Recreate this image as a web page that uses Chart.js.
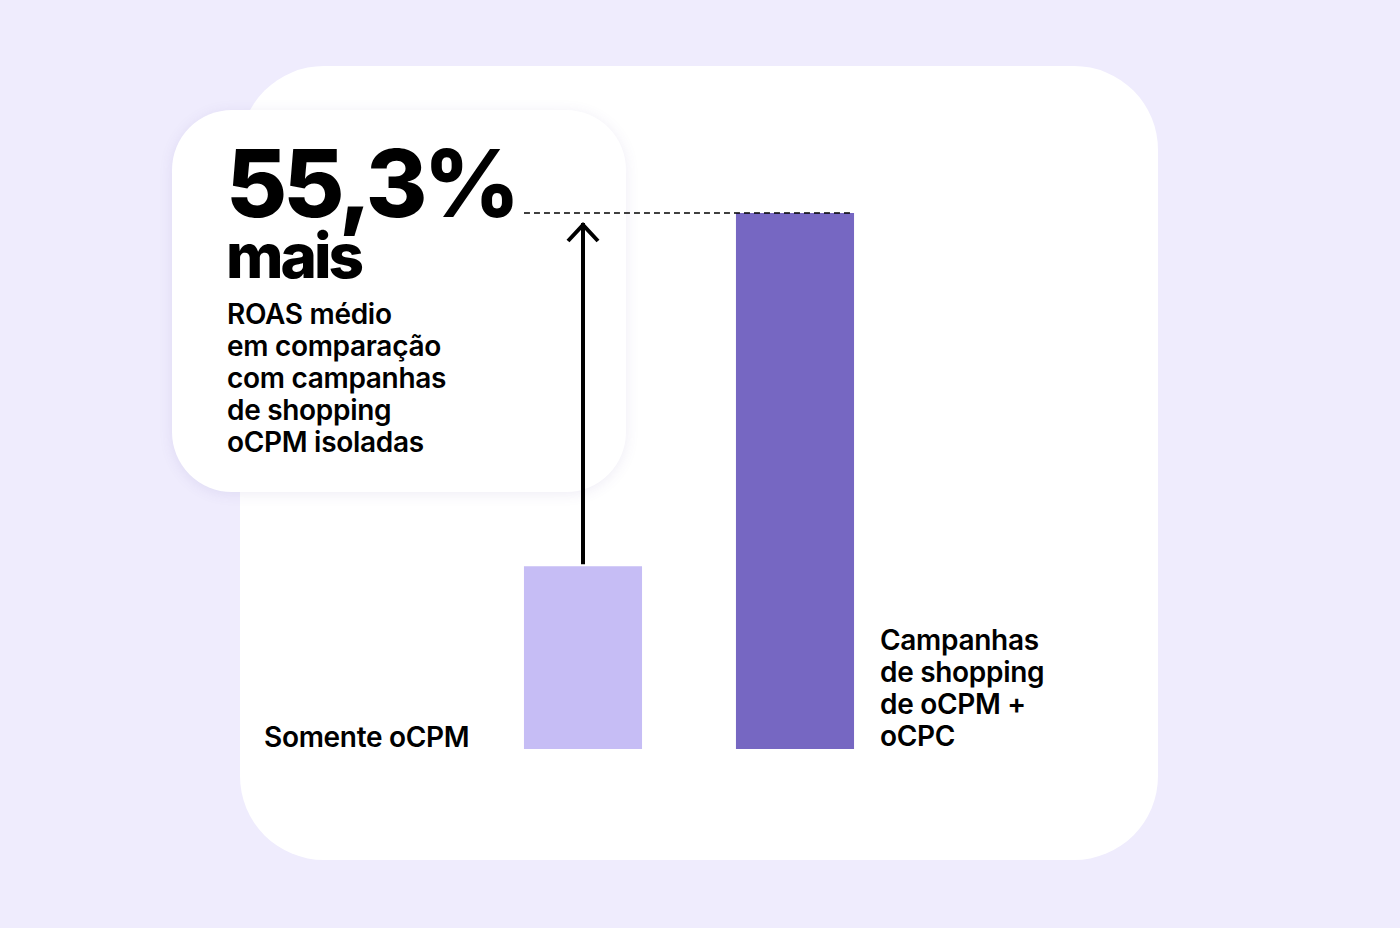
<!DOCTYPE html>
<html><head><meta charset="utf-8">
<script src="https://cdn.jsdelivr.net/npm/chart.js@4"></script>
<style>
body{margin:0;width:1400px;height:928px;background:#EFECFD;font-family:Inter,"Noto Sans",sans-serif;position:relative;overflow:hidden}
.card{position:absolute;left:240px;top:66px;width:918px;height:794px;background:#fff;border-radius:84px}
.call{position:absolute;left:172px;top:110px;width:454px;height:382px;background:#fff;border-radius:60px;box-shadow:0 2px 14px rgba(90,70,160,0.10)}
.big{position:absolute;left:226px;top:136px;font-size:94px;font-weight:800;letter-spacing:-4px;line-height:94px;color:#000}
.mais{position:absolute;left:226px;top:225px;font-size:62px;font-weight:800;letter-spacing:-3px;line-height:62px}
.sub{position:absolute;left:227px;top:298px;font-size:28px;font-weight:600;line-height:32px;letter-spacing:-0.3px}
.l1{position:absolute;left:264px;top:720px;font-size:28px;font-weight:600;letter-spacing:-0.3px}
.l2{position:absolute;left:880px;top:624px;font-size:28px;font-weight:600;line-height:32px;letter-spacing:-0.3px}
#wrap{position:absolute;left:460px;top:190px;width:460px;height:570px}
</style></head><body>
<div class="card"></div>
<div class="call"></div>
<div class="big">55,3%</div>
<div class="mais">mais</div>
<div class="sub">ROAS médio<br>em comparação<br>com campanhas<br>de shopping<br>oCPM isoladas</div>
<div class="l1">Somente oCPM</div>
<div class="l2">Campanhas<br>de shopping<br>de oCPM +<br>oCPC</div>
<div id="wrap"><canvas id="c"></canvas></div>
<script>
const categories = ['Somente oCPM', 'Campanhas de shopping de oCPM + oCPC']
const values = [34.1, 100]
const colors = ['#C6BDF5', '#7667C2']

// dashed reference line + arrow from the small bar to the top
const guide = {
    id: 'guide',
    afterDatasetsDraw (chart) {
        const ctx = chart.ctx
        const x = chart.scales.x, y = chart.scales.y
        const meta = chart.getDatasetMeta(0)
        const b0 = meta.data[0], b1 = meta.data[1]
        const top = y.getPixelForValue(values[1])
        ctx.save()
        ctx.strokeStyle = '#000'
        ctx.lineWidth = 1.5
        ctx.setLineDash([6, 4])
        ctx.beginPath()
        ctx.moveTo(b0.x - b0.width / 2, top)
        ctx.lineTo(b1.x + b1.width / 2, top)
        ctx.stroke()
        ctx.setLineDash([])
        ctx.lineWidth = 4
        const ax = b0.x
        const ay = top + 10
        ctx.beginPath()
        ctx.moveTo(ax, y.getPixelForValue(values[0]) - 2)
        ctx.lineTo(ax, ay)
        ctx.moveTo(ax - 15, ay + 18)
        ctx.lineTo(ax, ay + 2)
        ctx.lineTo(ax + 15, ay + 18)
        ctx.stroke()
        ctx.restore()
    }
}

new Chart(document.getElementById('c'), {
    type: 'bar',
    data: {
        labels: categories,
        datasets: [{ data: values, backgroundColor: colors, barPercentage: 0.557, categoryPercentage: 1 }]
    },
    options: {
        responsive: true,
        maintainAspectRatio: false,
        animation: false,
        layout: { padding: { left: 17, right: 19, top: 23, bottom: 11 } },
        plugins: { legend: { display: false }, tooltip: { enabled: false } },
        scales: {
            x: { display: false },
            y: { display: false, min: 0, max: 100 }
        }
    },
    plugins: [guide]
})
</script>
</body></html>
